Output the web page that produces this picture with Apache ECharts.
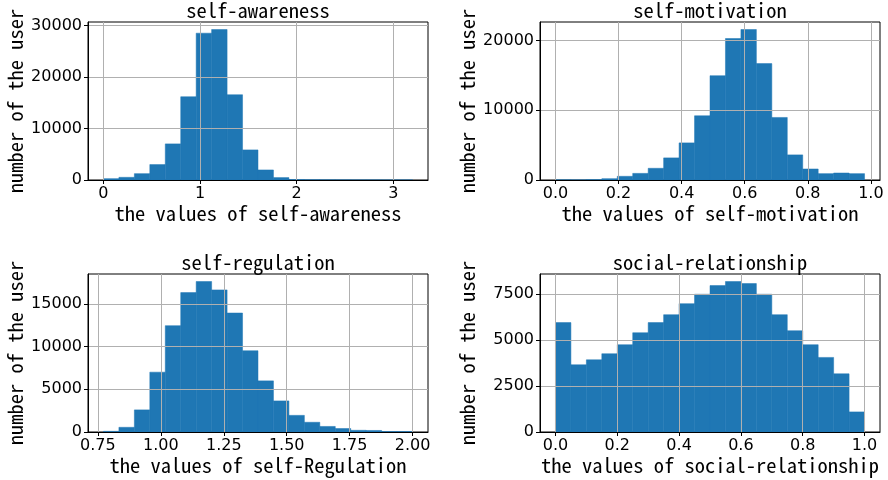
<!DOCTYPE html>
<html>
<head>
<meta charset="utf-8">
<script src="https://cdn.jsdelivr.net/npm/echarts@6/dist/echarts.min.js"></script>
<style>
  html, body { margin: 0; padding: 0; background: #fff; }
  #chart { width: 888px; height: 480px; }
</style>
</head>
<body>
<div id="chart"></div>
<script>
// Histogram counts per dimension (20 equal-width bins over each value range)
const awarenessRange = [0.0, 3.2];
const awarenessCounts = [260, 520, 1230, 3000, 7010, 16170, 28510, 29220, 16560, 5840,
                         1950, 470, 100, 60, 40, 30, 20, 20, 10, 20];

const motivationRange = [0.0, 0.98];
const motivationCounts = [30, 20, 60, 190, 530, 950, 1680, 3170, 5320, 9210,
                          14960, 20290, 21580, 16690, 8970, 3600, 1580, 910, 1000, 910];

const regulationRange = [0.772, 2.0];
const regulationCounts = [80, 550, 2590, 7010, 12460, 16330, 17630, 16650, 13940, 9520,
                          5990, 3640, 1950, 1140, 650, 410, 200, 180, 60, 60];

const relationshipRange = [0.0, 1.0];
const relationshipCounts = [5940, 3650, 3920, 4250, 4740, 5390, 5940, 6370, 6970, 7480,
                            7950, 8170, 8060, 7480, 6370, 5500, 4740, 4050, 3160, 1090];

// Titles and axis names
const titles = ['self-awareness', 'self-motivation', 'self-regulation', 'social-relationship'];
const xNames = ['the values of self-awareness', 'the values of self-motivation',
                'the values of self-Regulation', 'the values of social-relationship'];
const yName = 'number of the user';

// Tick positions and label precision
const xTicks = [[0, 1, 2, 3], [0, 0.2, 0.4, 0.6, 0.8, 1.0],
                [0.75, 1.0, 1.25, 1.5, 1.75, 2.0], [0, 0.2, 0.4, 0.6, 0.8, 1.0]];
const xDecimals = [0, 1, 2, 1];
const yTicks = [[0, 10000, 20000, 30000], [0, 10000, 20000],
                [0, 5000, 10000, 15000], [0, 2500, 5000, 7500]];

const panels = [
  { range: awarenessRange, counts: awarenessCounts },
  { range: motivationRange, counts: motivationCounts },
  { range: regulationRange, counts: regulationCounts },
  { range: relationshipRange, counts: relationshipCounts }
];

const gridBoxes = [
  { left: 88, top: 22, width: 340, height: 158 },
  { left: 540, top: 22, width: 340, height: 158 },
  { left: 88, top: 274, width: 340, height: 158 },
  { left: 540, top: 274, width: 340, height: 158 }
];

const monoFont = '"Noto Sans Mono CJK SC", "DejaVu Sans Mono", monospace';
const tickFont = '"DejaVu Sans", sans-serif';
const barColor = '#1f77b4';
const gridColor = '#b0b0b0';

function binRows(range, counts) {
  const n = counts.length;
  const w = (range[1] - range[0]) / n;
  return counts.map((c, i) => [range[0] + i * w, range[0] + (i + 1) * w, c]);
}

const option = {
  animation: false,
  backgroundColor: '#fff',
  title: [],
  grid: [],
  xAxis: [],
  yAxis: [],
  series: []
};

panels.forEach((p, i) => {
  const g = gridBoxes[i];
  const span = p.range[1] - p.range[0];
  const ymax = Math.max.apply(null, p.counts) * 1.05;

  option.grid.push({
    left: g.left, top: g.top, width: g.width, height: g.height,
    show: true, borderColor: '#000', borderWidth: 1, containLabel: false
  });

  option.title.push({
    text: titles[i],
    left: g.left + g.width / 2,
    top: g.top - 22,
    textAlign: 'center',
    padding: 0,
    textStyle: { fontFamily: monoFont, fontSize: 20.5, fontWeight: 'normal', color: '#000' }
  });

  option.xAxis.push({
    type: 'value',
    gridIndex: i,
    min: p.range[0] - span * 0.05,
    max: p.range[1] + span * 0.05,
    z: 5,
    name: xNames[i],
    nameLocation: 'middle',
    nameGap: 21,
    nameTextStyle: { fontFamily: monoFont, fontSize: 20.5, color: '#000' },
    axisLine: { show: true, onZero: false, lineStyle: { color: '#000', width: 1 } },
    axisTick: { show: true, length: 4, customValues: xTicks[i], lineStyle: { color: '#000' } },
    axisLabel: {
      customValues: xTicks[i], margin: 6, color: '#000',
      fontFamily: tickFont, fontSize: 16,
      formatter: v => Number(v).toFixed(xDecimals[i])
    },
    splitLine: { show: true, lineStyle: { color: gridColor, width: 1 } }
  });

  option.yAxis.push({
    type: 'value',
    gridIndex: i,
    min: 0,
    max: ymax,
    z: 5,
    name: yName,
    nameLocation: 'middle',
    nameGap: 63,
    nameTextStyle: { fontFamily: monoFont, fontSize: 20.5, color: '#000' },
    axisLine: { show: true, onZero: false, lineStyle: { color: '#000', width: 1 } },
    axisTick: { show: true, length: 4, customValues: yTicks[i], lineStyle: { color: '#000' } },
    axisLabel: {
      customValues: yTicks[i], margin: 6, color: '#000',
      fontFamily: tickFont, fontSize: 16,
      formatter: v => String(Math.round(v))
    },
    splitLine: { show: true, lineStyle: { color: gridColor, width: 1 } }
  });

  option.series.push({
    type: 'custom',
    xAxisIndex: i,
    yAxisIndex: i,
    data: binRows(p.range, p.counts),
    encode: { x: [0, 1], y: 2 },
    renderItem: function (params, api) {
      const top = api.coord([api.value(0), api.value(2)]);
      const base = api.coord([api.value(1), 0]);
      return {
        type: 'rect',
        shape: { x: top[0], y: top[1], width: base[0] - top[0], height: base[1] - top[1] },
        style: { fill: barColor, stroke: barColor, lineWidth: 0.5 }
      };
    }
  });
});

const chart = echarts.init(document.getElementById('chart'), null, { renderer: 'canvas' });
chart.setOption(option);
</script>
</body>
</html>
